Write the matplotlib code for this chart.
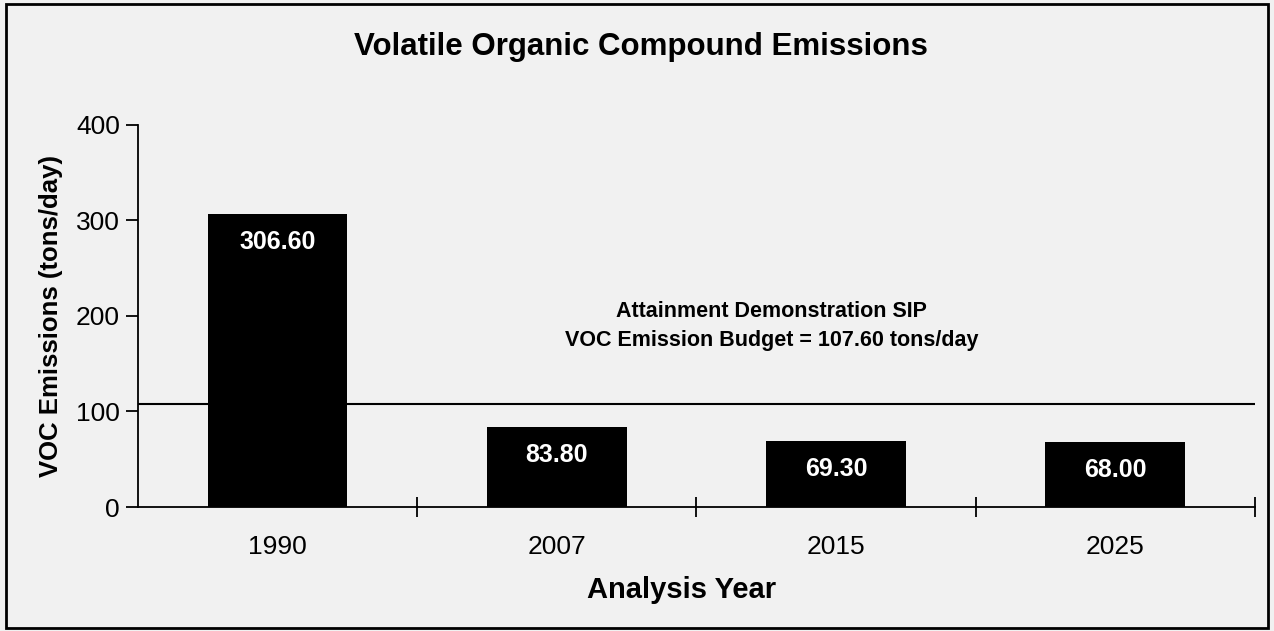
"""
Bar chart of VOC emissions by analysis year with the SIP budget line.
"""
import matplotlib
matplotlib.use("Agg")
import matplotlib.pyplot as plt
from matplotlib.patches import Rectangle

years = ["1990", "2007", "2015", "2025"]
emissions = [306.60, 83.80, 69.30, 68.00]
budget = 107.60
y_ticks = [0, 100, 200, 300, 400]

plt.rcParams["font.family"] = ["Liberation Sans", "DejaVu Sans"]

fig = plt.figure(figsize=(12.74, 6.31), dpi=100, facecolor="#f1f1f1")
ax = fig.add_axes([0.1083, 0.1965, 0.8767, 0.6055])
ax.set_facecolor("none")

x = list(range(len(years)))
ax.bar(x, emissions, width=0.5, color="black", zorder=3)

# value labels inside the top of each bar
for xi, v in zip(x, emissions):
    ax.text(xi, v - 29, f"{v:.2f}", color="white", fontsize=18, fontweight="bold",
            ha="center", va="center", zorder=4)

# budget line
ax.axhline(budget, color="black", linewidth=1.5, zorder=2)
ax.text(1.77, 190, "Attainment Demonstration SIP\nVOC Emission Budget = 107.60 tons/day",
        ha="center", va="center", fontsize=15.5, fontweight="bold", linespacing=1.5)

ax.set_xlim(-0.5, 3.5)
ax.set_ylim(0, 400)
ax.set_yticks(y_ticks)
ax.set_xticks(x)
ax.set_xticklabels(years)
ax.set_xticks([0.5, 1.5, 2.5, 3.5], minor=True)
ax.tick_params(axis="x", which="major", length=0, labelsize=19, pad=20)
ax.tick_params(axis="x", which="minor", direction="inout", length=14, width=1.3)
ax.tick_params(axis="y", direction="out", length=9, width=1.3, labelsize=19, pad=4)

for side in ["top", "right"]:
    ax.spines[side].set_visible(False)
ax.spines["left"].set_linewidth(1.3)
ax.spines["bottom"].set_linewidth(1.3)

ax.set_ylabel("VOC Emissions (tons/day)", fontsize=18.5, fontweight="bold", labelpad=9)
ax.set_xlabel("Analysis Year", fontsize=21, fontweight="bold")
ax.xaxis.set_label_coords(0.487, -0.181)
fig.text(0.503, 0.925, "Volatile Organic Compound Emissions", ha="center", va="center",
         fontsize=22.5, fontweight="bold")

# scanned-page border
fig.patches.append(Rectangle((0.005, 0.004), 0.99, 0.99, transform=fig.transFigure,
                             fill=False, edgecolor="black", linewidth=2))

fig.savefig("out.png", dpi=100, facecolor=fig.get_facecolor())
